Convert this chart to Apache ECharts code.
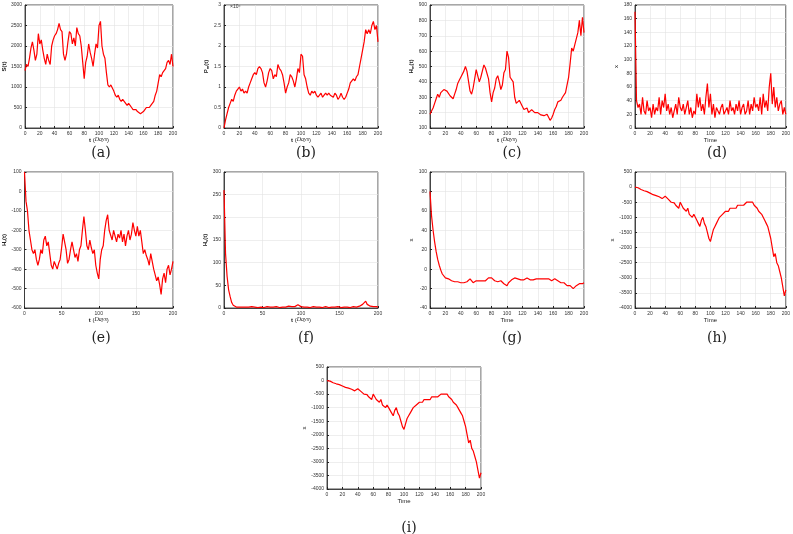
<!DOCTYPE html><html><head><meta charset="utf-8">
<script src="https://cdn.jsdelivr.net/npm/echarts@6/dist/echarts.min.js"></script>
<style>html,body{margin:0;background:#fff}#c{width:793px;height:534px}</style></head><body><div id="c"></div>
<script>
const t = Array.from({length:101},(_, i)=>i*2);
const sData=[1400,1550,1500,1700,1950,2100,1900,1650,1800,2300,2050,2150,1900,1700,1550,1800,1650,1550,2000,2150,2250,2300,2400,2550,2400,2350,1800,1650,1800,2100,2350,2300,2050,2200,2000,2450,2300,2250,2000,1600,1200,1600,1750,2050,1850,1700,1500,1800,2050,1950,2500,2600,2000,1800,1700,1350,1050,1000,1050,1050,900,800,750,800,700,650,700,650,600,550,600,550,500,450,450,450,400,420,350,350,400,450,500,520,500,550,600,650,800,900,1100,1300,1250,1350,1400,1450,1600,1650,1550,1800,1500];
const pmData=[0,0.2,0.35,0.5,0.6,0.7,0.65,0.8,0.9,0.95,1.0,0.9,0.95,0.85,0.9,0.85,1.0,1.1,1.2,1.3,1.35,1.3,1.45,1.5,1.45,1.35,1.1,1.0,1.15,1.35,1.45,1.4,1.2,1.3,1.25,1.55,1.45,1.4,1.3,1.1,0.85,1.0,1.1,1.3,1.25,1.15,1.0,1.2,1.45,1.35,1.8,1.75,1.3,1.2,1.0,0.85,0.8,0.9,0.85,0.9,0.8,0.75,0.8,0.85,0.75,0.8,0.85,0.8,0.85,0.8,0.8,0.75,0.85,0.8,0.7,0.75,0.85,0.75,0.7,0.75,0.85,0.95,1.1,1.1,1.2,1.15,1.25,1.3,1.5,1.7,1.9,2.1,2.4,2.3,2.4,2.3,2.5,2.6,2.4,2.5,2.1];
const hmData=[190,210,230,260,290,320,300,330,340,350,360,340,350,310,300,290,320,350,390,410,430,440,470,500,470,460,340,320,360,420,480,470,400,430,420,510,490,480,420,330,270,330,360,420,440,400,350,380,460,480,600,560,430,420,400,300,260,270,280,280,240,220,210,230,200,200,220,210,200,190,200,190,185,175,180,170,190,170,150,165,190,220,240,270,260,280,300,290,330,380,430,520,620,600,640,650,720,800,700,820,720];
const dData=[170,40,30,35,20,45,25,20,40,25,30,15,35,20,30,25,45,20,40,30,50,25,35,20,30,15,25,35,20,45,30,25,35,20,30,40,20,30,15,25,20,50,30,45,25,35,20,45,65,30,50,20,35,15,30,25,20,30,35,20,25,30,20,40,25,30,20,35,25,40,20,30,35,20,25,40,20,35,25,45,30,35,25,45,20,50,30,40,25,60,80,35,60,30,45,25,35,40,20,30,20];
const hrData=[100,-50,-100,-200,-250,-300,-320,-300,-350,-380,-350,-300,-320,-250,-230,-280,-260,-320,-380,-400,-360,-380,-400,-370,-350,-290,-220,-260,-300,-370,-350,-300,-260,-300,-340,-320,-360,-300,-280,-200,-130,-200,-280,-300,-250,-290,-320,-300,-380,-420,-450,-350,-300,-280,-200,-150,-120,-200,-210,-250,-200,-230,-260,-220,-240,-200,-260,-220,-280,-230,-200,-250,-220,-160,-200,-230,-180,-230,-200,-260,-320,-300,-330,-350,-380,-320,-360,-400,-430,-460,-440,-480,-530,-450,-420,-470,-400,-380,-430,-400,-360];
const hsData=[260,120,70,40,25,12,6,3,2,3,2,1,2,3,2,1,2,2,3,1,2,2,1,3,2,2,1,2,3,2,2,1,2,2,3,2,1,2,2,1,2,3,4,5,3,2,3,4,7,5,3,2,2,1,2,2,1,2,3,2,2,1,2,2,1,2,3,2,1,2,2,1,2,2,3,2,1,2,2,3,2,2,1,2,3,2,2,3,4,6,8,12,15,8,5,4,3,3,2,3,2];
const gData=[80,55,40,28,18,10,4,-1,-5,-7,-9,-9,-10,-10,-12,-11,-13,-14,-13,-14,-14,-13,-14,-12,-13,-11,-10,-12,-14,-13,-12,-13,-12,-11,-12,-13,-12,-10,-9,-10,-9,-11,-12,-14,-13,-15,-12,-13,-15,-16,-17,-14,-13,-11,-10,-9,-9,-10,-11,-11,-10,-11,-10,-9,-10,-11,-10,-11,-10,-10,-11,-10,-11,-10,-9,-10,-11,-10,-11,-12,-11,-10,-11,-12,-13,-14,-15,-14,-16,-17,-18,-17,-19,-20,-18,-17,-16,-15,-16,-15,-14];
const hData=[0,20,-20,-50,-80,-100,-120,-140,-150,-170,-200,-210,-250,-260,-280,-300,-320,-350,-380,-400,-300,-350,-400,-450,-500,-480,-520,-600,-650,-700,-500,-600,-700,-750,-800,-700,-900,-950,-1000,-900,-1000,-1100,-1200,-1300,-1100,-1000,-1200,-1300,-1500,-1700,-1800,-1600,-1400,-1300,-1200,-1100,-1000,-950,-900,-850,-800,-750,-800,-700,-750,-700,-650,-700,-600,-650,-600,-550,-600,-550,-500,-550,-500,-450,-500,-600,-650,-700,-800,-850,-900,-1000,-1100,-1200,-1300,-1500,-1700,-2000,-2300,-2200,-2500,-2600,-2800,-3000,-3300,-3600,-3400];
const panels=[
 {d:sData,y:[0,3000,500],yn:'{b|S(t)}',xn:'days',xi:20,lab:'(a)'},
 {d:pmData,y:[0,3,0.5],yn:'{b|P}{s|m}{b|(t)}',xn:'days',xi:20,lab:'(b)',exp:true},
 {d:hmData,y:[100,900,100],yn:'{b|H}{s|m}{b|(t)}',xn:'days',xi:20,lab:'(c)'},
 {d:dData,y:[0,180,20],yn:'x',xn:'Time',xi:20,lab:'(d)'},
 {d:hrData,y:[-600,100,100],yn:'{b|H}{s|r}{b|(t)}',xn:'days',xi:50,lab:'(e)'},
 {d:hsData,y:[0,300,50],yn:'{b|H}{s|s}{b|(t)}',xn:'days',xi:50,lab:'(f)'},
 {d:gData,y:[-40,100,20],yn:'x',xn:'Time',xi:20,lab:'(g)'},
 {d:hData,y:[-4000,500,500],yn:'x',xn:'Time',xi:20,lab:'(h)'},
 {d:hData,y:[-4000,500,500],yn:'x',xn:'Time',xi:20,lab:'(i)'}];
const pos=[[19,5,123],[224,5,123],[430,5,123],[635,5,123],[19,172,136],[224,172,136],[430,172,136],[635,172,136],[327,367,122]];
const labY=[150,150,150,150,335,335,335,335,525];
const grid=[],xAxis=[],yAxis=[],series=[],title=[];
const fs=5,fc='#333';
panels.forEach((p,i)=>{
 const [l,tp,h]=pos[i];
 grid.push({left:l,top:tp,width:154,height:h,show:true,borderColor:'#222',borderWidth:0.8});
 xAxis.push({gridIndex:i,type:'value',min:0,max:200,interval:p.xi,
  name:p.xn==='days'?'{b|t} ({i|Days})':'Time',nameLocation:'middle',nameGap:8,
  nameTextStyle:{fontSize:6,color:'#222',rich:{b:{fontSize:6,fontWeight:'bold'},i:{fontSize:6,fontStyle:'italic',fontFamily:'Liberation Serif'}}},
  axisLine:{onZero:false,lineStyle:{color:'#222',width:0.8}},axisTick:{inside:true,length:2,lineStyle:{color:'#222'}},
  axisLabel:{fontSize:fs,color:fc,margin:3},splitLine:{show:true,lineStyle:{color:'#e2e2e2',width:0.6}}});
 yAxis.push({gridIndex:i,type:'value',min:p.y[0],max:p.y[1],interval:p.y[2],
  name:p.yn,nameLocation:'middle',nameGap:p.y[1]>=1000||p.y[0]<=-100?17:12,
  nameTextStyle:{fontSize:6,color:'#222',rich:{b:{fontSize:6,fontWeight:'bold',color:'#222'},s:{fontSize:4,fontWeight:'bold',color:'#222',verticalAlign:'bottom',padding:[3,0,0,0]}}},
  axisLine:{onZero:false,lineStyle:{color:'#222',width:0.8}},axisTick:{inside:true,length:2,lineStyle:{color:'#222'}},
  axisLabel:{fontSize:fs,color:fc,margin:3,formatter:v=>String(v)},splitLine:{show:true,lineStyle:{color:'#e2e2e2',width:0.6}}});
 series.push({type:'line',xAxisIndex:i,yAxisIndex:i,data:t.map((x,k)=>[x,p.d[k]]),showSymbol:false,
  lineStyle:{color:'#ff0000',width:1.2},animation:false});
 title.push({text:p.lab,left:l+77,top:labY[i]-9,textAlign:'center',textStyle:{fontSize:14,fontWeight:'normal',fontFamily:'DejaVu Serif',color:'#222'}});
 if(p.exp) title.push({text:'×10⁴',left:l+1,top:tp-6,textStyle:{fontSize:5,fontWeight:'normal',color:'#333'}});
});
const chart=echarts.init(document.getElementById('c'));
chart.setOption({animation:false,title,grid,xAxis,yAxis,series});
</script></body></html>
